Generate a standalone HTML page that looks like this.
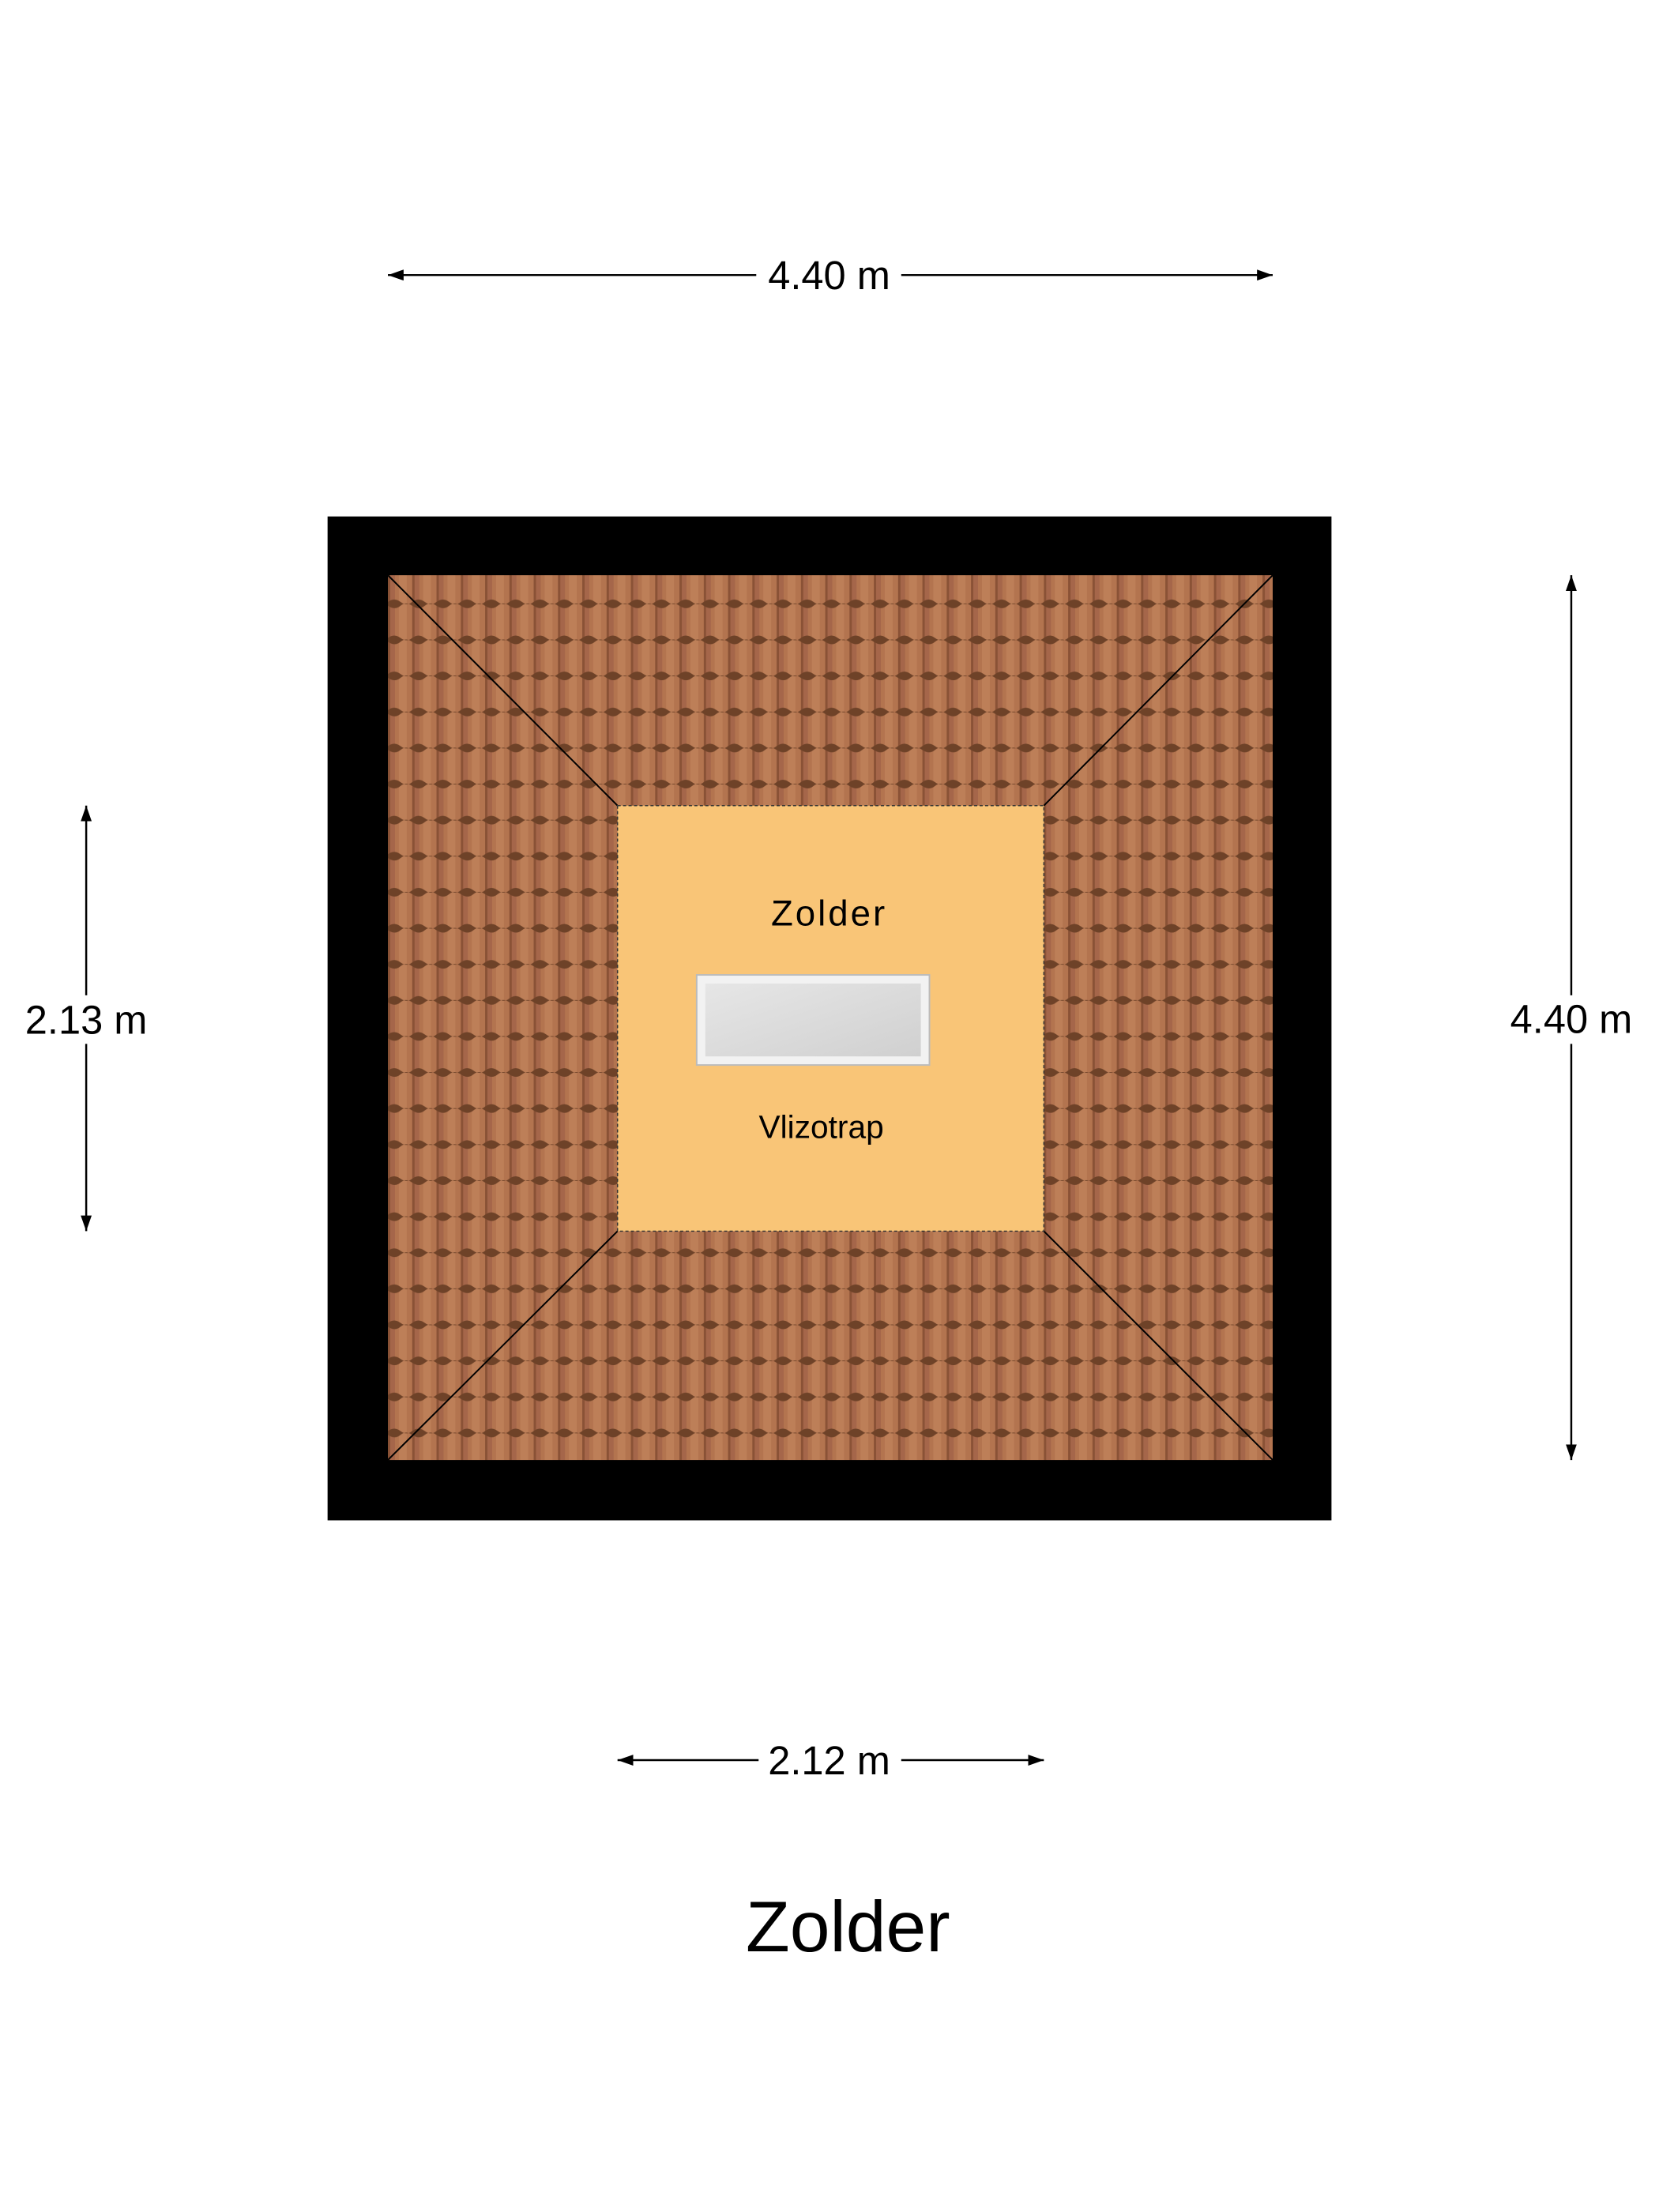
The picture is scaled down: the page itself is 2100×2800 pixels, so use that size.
<!DOCTYPE html>
<html><head><meta charset="utf-8"><style>
html,body{margin:0;padding:0;background:#fff;}
svg{display:block}
text{font-family:"Liberation Sans",sans-serif;fill:#000}
</style></head><body>
<svg width="2100" height="2800" viewBox="0 0 2100 2800" xmlns="http://www.w3.org/2000/svg">
<defs>
<pattern id="tile" x="495" y="734" width="31" height="46" patternUnits="userSpaceOnUse">
<rect width="31" height="46" fill="#b3744f"/>
<rect x="0" y="0" width="3" height="46" fill="#8a5236"/>
<rect x="3" y="0" width="6" height="46" fill="#a5664a"/>
<rect x="14" y="0" width="10" height="46" fill="#bd7f58"/>
<path d="M0 34 Q8 28 16 34 T31 34 L31 39 Q23 33 16 39 T0 39Z" fill="#6e4228"/>
</pattern>
<marker id="a" viewBox="0 0 20 14" markerWidth="20" markerHeight="14" refX="20" refY="7" orient="auto-start-reverse" markerUnits="userSpaceOnUse"><path d="M0 0 L20 7 L0 14Z" fill="#000"/></marker>
<linearGradient id="g" x1="0" y1="0" x2="1" y2="1"><stop offset="0" stop-color="#e6e6e6"/><stop offset="1" stop-color="#d0d0d0"/></linearGradient>
</defs>
<g transform="scale(0.992)">
<rect x="418" y="659" width="1281" height="1281" fill="#000"/>
<rect x="495" y="734" width="1129" height="1129" fill="url(#tile)"/>
<g stroke="#000" stroke-width="2">
<line x1="495" y1="734" x2="788" y2="1028"/>
<line x1="1624" y1="734" x2="1332" y2="1028"/>
<line x1="495" y1="1863" x2="788" y2="1571"/>
<line x1="1624" y1="1863" x2="1332" y2="1571"/>
</g>
<rect x="788" y="1028" width="544" height="543" fill="#f9c577" stroke="#333" stroke-width="1.5" stroke-dasharray="4 3"/>
<text x="1058" y="1181" font-size="46" text-anchor="middle" letter-spacing="3">Zolder</text>
<rect x="889" y="1244" width="297" height="115" fill="#f2f2f2" stroke="#bbb" stroke-width="2"/>
<rect x="900" y="1255" width="275" height="93" fill="url(#g)"/>
<text x="1048" y="1452" font-size="41" text-anchor="middle">Vlizotrap</text>
<g stroke="#000" stroke-width="2.5" fill="none">
<line x1="495" y1="351" x2="965" y2="351" marker-start="url(#a)"/>
<line x1="1150" y1="351" x2="1624" y2="351" marker-end="url(#a)"/>
<line x1="788" y1="2246" x2="968" y2="2246" marker-start="url(#a)"/>
<line x1="1150" y1="2246" x2="1332" y2="2246" marker-end="url(#a)"/>
<line x1="110" y1="1028" x2="110" y2="1270" marker-start="url(#a)"/>
<line x1="110" y1="1332" x2="110" y2="1571" marker-end="url(#a)"/>
<line x1="2005" y1="734" x2="2005" y2="1270" marker-start="url(#a)"/>
<line x1="2005" y1="1332" x2="2005" y2="1863" marker-end="url(#a)"/>
</g>
<g font-size="51" text-anchor="middle">
<text x="1058" y="369">4.40 m</text>
<text x="1058" y="2264">2.12 m</text>
<text x="110" y="1319">2.13 m</text>
<text x="2005" y="1318">4.40 m</text>
</g>
<text x="1082" y="2490" font-size="92" text-anchor="middle">Zolder</text>
</g>
</svg>
</body></html>
